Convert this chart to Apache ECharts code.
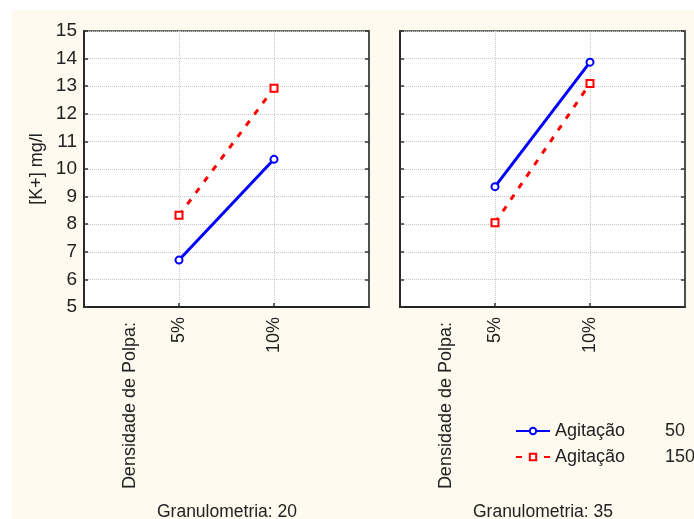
<!DOCTYPE html>
<html>
<head>
<meta charset="utf-8">
<script src="https://cdn.jsdelivr.net/npm/echarts@6/dist/echarts.min.js"></script>
<style>html,body{margin:0;padding:0;background:#fff;}#c{width:694px;height:519px;}</style>
</head>
<body>
<div id="c"></div>
<script>
// Data
var xPositions = [1, 2];           // 5%, 10% on a 0..3 axis
var xTickLabels = {1: '5%', 2: '10%'};
var factorLabel = 'Densidade de Polpa:';
var panelTitles = ['Granulometria: 20', 'Granulometria: 35'];
var seriesNames = ['Agitação 50', 'Agitação 150'];
var panel1_ag50 = [6.7, 10.35];
var panel1_ag150 = [8.32, 12.93];
var panel2_ag50 = [9.36, 13.87];
var panel2_ag150 = [8.05, 13.1];
var yMin = 5, yMax = 15;

var FONT = 'Liberation Sans, Arial, sans-serif';
var grids = [
  {left: 84, top: 31, width: 285, height: 276},
  {left: 400, top: 31, width: 285, height: 276}
];

function pairs(vals){ return xPositions.map(function(x,i){ return [x, vals[i]]; }); }

var xAxes = [], yAxes = [];
grids.forEach(function(g, gi){
  xAxes.push({
    type: 'value', gridIndex: gi, min: 0, max: 3, interval: 1,
    axisLine: {show: true, onZero: false, lineStyle: {color: '#222', width: 1.8}},
    axisTick: {show: true, inside: true, length: 4, lineStyle: {color: '#333', width: 1.5},
      customValues: [1, 2]},
    axisLabel: {show: true, rotate: 90, margin: 10, color: '#222', fontSize: 18, fontFamily: FONT,
      customValues: [1, 2],
      formatter: function(v){ return xTickLabels[v] || ''; }},
    splitLine: {show: true, lineStyle: {color: '#c8c8c8', type: 'dotted', width: 1}}
  });
  yAxes.push({
    type: 'value', gridIndex: gi, min: yMin, max: yMax, interval: 1, position: 'left',
    name: gi === 0 ? '[K+] mg/l' : '', nameLocation: 'middle', nameRotate: 90, nameGap: 38,
    nameTextStyle: {color: '#222', fontSize: 18, fontFamily: FONT},
    axisLine: {show: true, lineStyle: {color: '#222', width: 1.8}},
    axisTick: {show: true, inside: true, length: 4, lineStyle: {color: '#333', width: 1.5}},
    axisLabel: {show: gi === 0, margin: 7, color: '#222', fontSize: 19, fontFamily: FONT},
    splitLine: {show: true, lineStyle: {color: '#c8c8c8', type: 'dotted', width: 1}}
  });
  yAxes.push({
    type: 'value', gridIndex: gi, min: yMin, max: yMax, interval: 1, position: 'right',
    axisLine: {show: true, lineStyle: {color: '#444', width: 1.5}},
    axisTick: {show: true, inside: true, length: 4, lineStyle: {color: '#333', width: 1.5}},
    axisLabel: {show: false}, splitLine: {show: false}
  });
});

function blue(name, data, gi){
  return {type: 'line', name: name, xAxisIndex: gi, yAxisIndex: gi*2, data: pairs(data),
    symbol: 'emptyCircle', symbolSize: 7,
    lineStyle: {color: '#0000ff', width: 3, type: 'solid'},
    itemStyle: {color: '#0000ff', borderColor: '#0000ff', borderWidth: 1.3},
    z: 3, animation: false};
}
function red(name, data, gi){
  return {type: 'line', name: name, xAxisIndex: gi, yAxisIndex: gi*2, data: pairs(data),
    symbol: 'emptyRect', symbolSize: 7,
    lineStyle: {color: '#ff0000', width: 3, type: [6, 8]},
    itemStyle: {color: '#ff0000', borderColor: '#ff0000', borderWidth: 1.3},
    z: 3, animation: false};
}

var option = {
  backgroundColor: '#ffffff',
  animation: false,
  textStyle: {fontFamily: FONT},
  grid: grids.map(function(g){ return Object.assign({show: true, backgroundColor: '#ffffff', borderColor: '#444', borderWidth: 1.5}, g); }),
  xAxis: xAxes,
  yAxis: yAxes,
  legend: {
    data: seriesNames, orient: 'vertical', left: 510, top: 416,
    itemWidth: 34, itemHeight: 8, itemGap: 6,
    textStyle: {color: '#222', fontSize: 18, fontFamily: FONT, lineHeight: 20,
      rich: {a: {width: 110, fontSize: 18, fontFamily: FONT, color: '#222'}, b: {fontSize: 18, fontFamily: FONT, color: '#222'}}},
    formatter: function(n){ var p = n.split(' '); return '{a|' + p[0] + '}{b|' + p[1] + '}'; }
  },
  graphic: [
    {type: 'rect', z: -10, silent: true, shape: {x: 12, y: 10, width: 694, height: 519}, style: {fill: '#fffaf0'}},
    {type: 'text', x: 130, y: 322, rotation: Math.PI/2, style: {text: factorLabel, fill: '#222', font: '18px ' + FONT, align: 'right', verticalAlign: 'middle'}},
    {type: 'text', x: 446, y: 322, rotation: Math.PI/2, style: {text: factorLabel, fill: '#222', font: '18px ' + FONT, align: 'right', verticalAlign: 'middle'}},
    {type: 'text', x: 227, y: 512, style: {text: panelTitles[0], fill: '#222', font: '17.5px ' + FONT, align: 'center', verticalAlign: 'middle'}},
    {type: 'text', x: 543, y: 512, style: {text: panelTitles[1], fill: '#222', font: '17.5px ' + FONT, align: 'center', verticalAlign: 'middle'}}
  ],
  series: [
    blue(seriesNames[0], panel1_ag50, 0),
    red(seriesNames[1], panel1_ag150, 0),
    blue(seriesNames[0], panel2_ag50, 1),
    red(seriesNames[1], panel2_ag150, 1)
  ]
};
var chart = echarts.init(document.getElementById('c'), null, {renderer: 'canvas'});
chart.setOption(option);
</script>
</body>
</html>
